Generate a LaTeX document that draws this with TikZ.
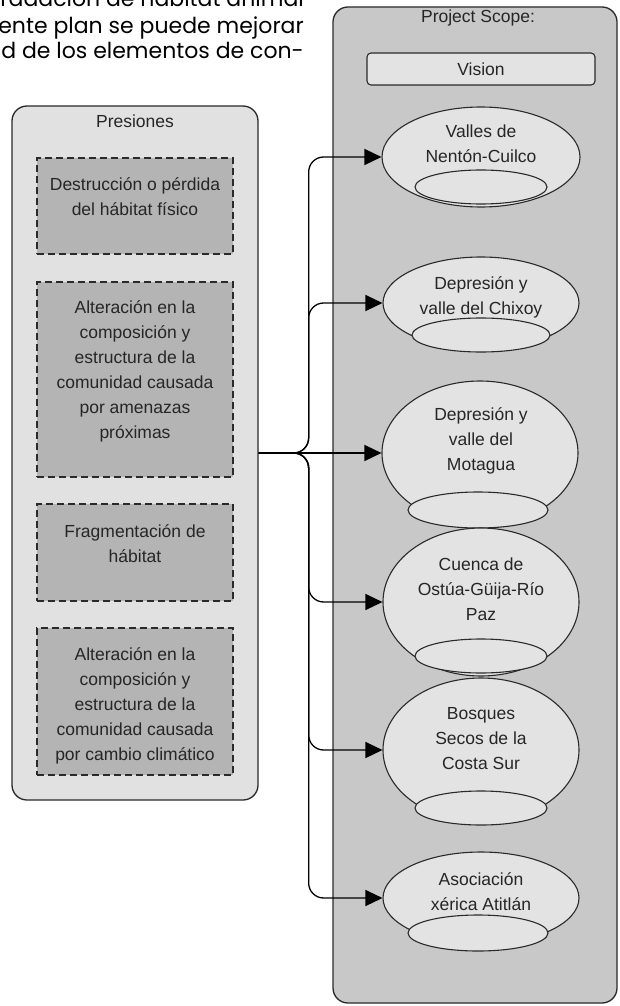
\documentclass[tikz,border=0pt]{standalone}
\usepackage{fontspec}
\setmainfont{Liberation Sans}
\newfontfamily\bodyfont{Poppins}
\usetikzlibrary{arrows.meta,shapes.geometric}
\definecolor{edge}{HTML}{2A2A2A}
\definecolor{lightpanel}{HTML}{E1E1E1}
\definecolor{darkpanel}{HTML}{C8C8C8}
\definecolor{pressbox}{HTML}{B4B4B4}
\definecolor{ellfill}{HTML}{E3E3E3}
\begin{document}
\begin{tikzpicture}[x=1pt,y=-1pt,
  panel/.style={draw=edge,line width=1.3pt,rounded corners=15pt,inner sep=0pt},
  pressure/.style={draw=edge,fill=pressbox,line width=1.3pt,dash pattern=on 7pt off 4pt,minimum width=196pt,inner sep=0pt},
  lbl/.style={font=\fontsize{17.5}{25}\selectfont,align=center,inner sep=0pt,text=black!85},
  big/.style={ellipse,draw=edge,fill=ellfill,line width=1.1pt,inner sep=0pt},
  small/.style={ellipse,draw=edge,fill=ellfill,line width=1.1pt,inner sep=0pt},
  conn/.style={draw=black,line width=1.3pt,rounded corners=15pt,-{Triangle[length=17pt,width=16pt]}},
  body/.style={font=\bodyfont\fontsize{22}{26}\selectfont,anchor=base east,inner sep=0pt}
]
\clip (0,0) rectangle (619,1006);
\useasboundingbox (0,0) rectangle (619,1006);
\fill[white] (0,0) rectangle (619,1006);

% running text
\node[body] (t1) at (304,7) {degradación de hábitat animal};
\node[body] (t2) at (304,34) {ente plan se puede mejorar};
\node[body] (t3) at (304,59) {d de los elementos de con-};

% panels
\node[panel,fill=darkpanel,minimum width=284pt,minimum height=996pt] (scope) at (475,505) {};
\node[panel,fill=lightpanel,minimum width=246pt,minimum height=694pt] (pres) at (135,453) {};
\node[lbl] (scopet) at (478,18) {Project Scope:};
\node[lbl] (prest) at (135,121) {Presiones};
\node[draw=edge,fill=ellfill,line width=1.1pt,rounded corners=4pt,minimum width=228pt,minimum height=32pt,inner sep=0pt] (vision) at (481,69) {};
\node[lbl] (visiont) at (481,69) {Vision};

% pressures
\node[pressure,minimum height=96pt] (p1) at (135,206) {};
\node[pressure,minimum height=195pt] (p2) at (135,379.5) {};
\node[pressure,minimum height=97pt] (p3) at (135,552.5) {};
\node[pressure,minimum height=147pt] (p4) at (135,701.5) {};
\node[lbl] (p1t) at (135,197) {Destrucción o pérdida\\del hábitat físico};
\node[lbl] (p2t) at (135,371.5) {Alteración en la\\composición y\\estructura de la\\comunidad causada\\por amenazas\\próximas};
\node[lbl] (p3t) at (135,544) {Fragmentación de\\hábitat};
\node[lbl] (p4t) at (135,706) {Alteración en la\\composición y\\estructura de la\\comunidad causada\\por cambio climático};

% targets
\node[big,minimum width=198pt,minimum height=100pt] (e1) at (481,157) {};
\node[small,minimum width=132pt,minimum height=34pt] (s1) at (481,187) {};
\node[lbl] (e1t) at (481,143.5) {Valles de\\Nentón-Cuilco};

\node[big,minimum width=196pt,minimum height=92pt] (e2) at (481,303) {};
\node[small,minimum width=138pt,minimum height=34pt] (s2) at (481,335) {};
\node[lbl] (e2t) at (481,297) {Depresión y\\valle del Chixoy};

\node[big,minimum width=196pt,minimum height=144pt] (e3) at (480,453) {};
\node[small,minimum width=140pt,minimum height=36pt] (s3) at (478,510) {};
\node[lbl] (e3t) at (481,440.5) {Depresión y\\valle del\\Motagua};

\node[big,minimum width=196pt,minimum height=148pt] (e4) at (481,602) {};
\node[small,minimum width=132pt,minimum height=34pt] (s4) at (481,656) {};
\node[lbl] (e4t) at (481,589.5) {Cuenca de\\Ostúa-Güija-Río\\Paz};

\node[big,minimum width=196pt,minimum height=144pt] (e5) at (481,750) {};
\node[small,minimum width=132pt,minimum height=34pt] (s5) at (481,808) {};
\node[lbl] (e5t) at (481,739) {Bosques\\Secos de la\\Costa Sur};

\node[big,minimum width=196pt,minimum height=92pt] (e6) at (481,898) {};
\node[small,minimum width=140pt,minimum height=36pt] (s6) at (478,933) {};
\node[lbl] (e6t) at (481,892) {Asociación\\xérica Atitlán};

% connectors
\coordinate (trunk) at ([xshift=50pt]pres.east);
\draw[conn] (pres.east) -- (trunk) |- (e1.west);
\draw[conn] (pres.east) -- (trunk) |- (e2.west);
\draw[conn] (pres.east) -- (e3.west);
\draw[conn] (pres.east) -- (trunk) |- (e4.west);
\draw[conn] (pres.east) -- (trunk) |- (e5.west);
\draw[conn] (pres.east) -- (trunk) |- (e6.west);
\end{tikzpicture}
\end{document}
